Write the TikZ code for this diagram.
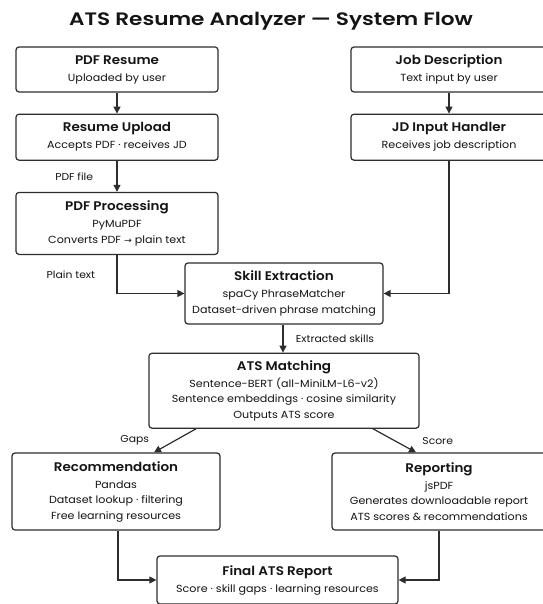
\documentclass[tikz,border=0pt]{standalone}
\usepackage{fontspec}
\setmainfont{Poppins}[FakeStretch=1.08, BoldFont={Poppins SemiBold}]
\newfontfamily\titlefont{Poppins SemiBold}[FakeStretch=1.2]
\newfontfamily\arrowfont{DejaVu Sans}[FakeStretch=1.1]
\usetikzlibrary{positioning,arrows.meta,calc}
\definecolor{linegray}{RGB}{45,45,45}
\definecolor{textdark}{RGB}{20,20,20}
\newcommand{\boxhead}[1]{{\fontsize{12.5}{15}\selectfont\bfseries #1}\\[1.5pt]}

\begin{document}
\begin{tikzpicture}[x=1pt,y=1pt,
        stage/.style={draw=linegray, line width=1.2pt, rounded corners=3pt, fill=white,
            align=center, text=textdark, inner sep=2pt,
            font=\fontsize{10.3}{15.5}\selectfont},
        flow/.style={draw=linegray, line width=1.2pt, -{Triangle[length=7pt,width=7pt]}},
        tag/.style={text=textdark, font=\fontsize{10}{12}\selectfont}]
        \useasboundingbox (0,0) rectangle (542,-604);
        \node[font=\titlefont\fontsize{18}{20}\selectfont, text=textdark] (title) at (271,-21)
            {ATS Resume Analyzer — System Flow};
        % input column, left
        \node[stage, minimum width=202pt, minimum height=45pt] (resume) at (117,-69.5)
            {\boxhead{PDF Resume}Uploaded by user};
        \node[stage, minimum width=202pt, minimum height=46pt, below=21pt of resume] (upload)
            {\boxhead{Resume Upload}Accepts PDF · receives JD};
        \node[stage, minimum width=202pt, minimum height=62pt, below=31pt of upload] (process)
            {\boxhead{PDF Processing}PyMuPDF\\Converts PDF {\arrowfont\fontsize{8.5}{10}\selectfont→} plain text};
        % input column, right
        \node[stage, minimum width=196pt, minimum height=45pt] (jd) at (449,-69.5)
            {\boxhead{Job Description}Text input by user};
        \node[stage, minimum width=196pt, minimum height=46pt, below=21pt of jd] (handler)
            {\boxhead{JD Input Handler}Receives job description};
        % core
        \node[stage, minimum width=198pt, minimum height=61pt] (skills) at (284,-293.5)
            {\boxhead{Skill Extraction}spaCy PhraseMatcher\\Dataset-driven phrase matching};
        \node[stage, minimum width=270pt, minimum height=75pt, below=28pt of skills] (match)
            {\boxhead{ATS Matching}Sentence-BERT (all-MiniLM-L6-v2)\\Sentence embeddings · cosine similarity\\Outputs ATS score};
        \node[stage, minimum width=208pt, minimum height=77pt] (recom) at (116,-491.5)
            {\boxhead{Recommendation}Pandas\\Dataset lookup · filtering\\Free learning resources};
        \node[stage, minimum width=214pt, minimum height=77pt] (report) at (439,-491.5)
            {\boxhead{Reporting}jsPDF\\Generates downloadable report\\ATS scores \& recommendations};
        \node[stage, minimum width=241pt, minimum height=48pt] (final) at (277.5,-580)
            {\boxhead{Final ATS Report}Score · skill gaps · learning resources};

        \draw[flow] (resume) -- (upload);
        \draw[flow] (jd) -- (handler);
        \draw[flow] (upload) -- node[tag, midway, left=20pt] {PDF file} (process);
        \draw[flow] (process.south) |- node[tag, pos=0.25, left=18pt] {Plain text} (skills.west);
        \draw[flow] (handler.south) |- (skills.east);
        \draw[flow] ([xshift=-1pt]skills.south) -- node[tag, midway, right=9pt] {Extracted skills} ([xshift=-1pt]match.north);
        \draw[flow] ([xshift=-88pt]match.south) -- node[tag, midway, left=22pt] {Gaps} ([xshift=38pt]recom.north);
        \draw[flow] ([xshift=89pt]match.south) -- node[tag, midway, right=24pt] {Score} ([xshift=-23pt]report.north);
        \draw[flow] ([xshift=2pt]recom.south) |- (final.west);
        \draw[flow] (report.south) |- (final.east);
\end{tikzpicture}
\end{document}
